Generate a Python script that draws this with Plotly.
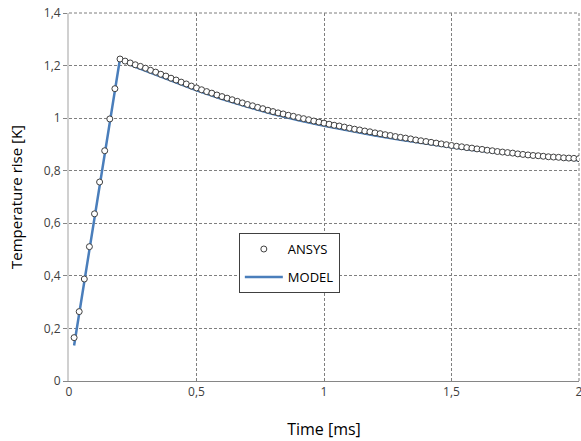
import plotly.graph_objects as go

# ANSYS data (time in ms, temperature rise in K)
ansys_t = [round(0.02 * i, 2) for i in range(1, 101)]
ansys_rise = [0.165, 0.264, 0.388, 0.511, 0.636, 0.757, 0.876, 0.997, 1.112, 1.225]
ansys_decay = [
    1.217, 1.210, 1.203, 1.197, 1.190, 1.182, 1.175, 1.167, 1.160, 1.152,
    1.145, 1.137, 1.130, 1.122, 1.115, 1.108, 1.101, 1.095, 1.088, 1.082,
    1.076, 1.070, 1.064, 1.058, 1.052, 1.047, 1.041, 1.036, 1.030, 1.025,
    1.020, 1.016, 1.011, 1.007, 1.002, 0.998, 0.994, 0.989, 0.985, 0.981,
    0.977, 0.973, 0.970, 0.966, 0.962, 0.958, 0.955, 0.951, 0.948, 0.944,
    0.941, 0.937, 0.934, 0.930, 0.927, 0.924, 0.921, 0.917, 0.914, 0.911,
    0.908, 0.905, 0.902, 0.899, 0.896, 0.893, 0.891, 0.888, 0.886, 0.883,
    0.881, 0.878, 0.876, 0.873, 0.871, 0.869, 0.867, 0.864, 0.862, 0.860,
    0.858, 0.857, 0.855, 0.853, 0.852, 0.851, 0.849, 0.848, 0.847, 0.846,
]
ansys_y = ansys_rise + ansys_decay

# MODEL data
model_t = [0.02, 0.2, 0.25, 0.3, 0.4, 0.5, 0.6, 0.7, 0.8, 0.9, 1.0,
           1.1, 1.2, 1.3, 1.4, 1.5, 1.6, 1.7, 1.8, 1.9, 2.0]
model_y = [0.135, 1.226, 1.199, 1.180, 1.143, 1.106, 1.073, 1.043, 1.016, 0.992, 0.971,
           0.952, 0.934, 0.918, 0.903, 0.889, 0.877, 0.866, 0.856, 0.848, 0.840]

x_ticks = [0, 0.5, 1, 1.5, 2]
y_ticks = [0, 0.2, 0.4, 0.6, 0.8, 1, 1.2, 1.4]

font_family = "Open Sans, Liberation Sans, sans-serif"
grid_color = "#7f7f7f"
grid_dash = "3px,2px"

fig = go.Figure()
fig.add_trace(go.Scatter(
    x=model_t, y=model_y, mode="lines", name="MODEL",
    line=dict(color="#4a7ebb", width=2.5),
    legendgroup="b", legendrank=2,
))
fig.add_trace(go.Scatter(
    x=ansys_t, y=ansys_y, mode="markers", name="ANSYS",
    marker=dict(symbol="circle", size=6, color="white",
                line=dict(color="#404040", width=1)),
    legendgroup="a", legendrank=1,
))

# gridlines on the top and right edges of the plot area
fig.add_shape(type="line", xref="x domain", yref="y domain", x0=0, x1=1, y0=1, y1=1,
              line=dict(color=grid_color, width=1, dash=grid_dash), layer="below")
fig.add_shape(type="line", xref="x domain", yref="y domain", x0=1, x1=1, y0=0, y1=1,
              line=dict(color=grid_color, width=1, dash=grid_dash), layer="below")

fig.update_layout(
    width=581, height=441,
    margin=dict(l=69, r=2, t=13, b=60),
    paper_bgcolor="white", plot_bgcolor="white",
    separators=", ",
    font=dict(family=font_family, size=12, color="#404040"),
    showlegend=True,
    legend=dict(
        x=0.333, y=0.402, xanchor="left", yanchor="top",
        bordercolor="#404040", borderwidth=1, bgcolor="white",
        font=dict(size=13, color="#000000"),
        traceorder="grouped", tracegroupgap=8, itemwidth=38,
    ),
    xaxis=dict(
        range=[0, 2], tickvals=x_ticks, automargin=False, ticklabeloverflow="allow",
        showgrid=True, gridcolor=grid_color, griddash=grid_dash, gridwidth=1,
        zeroline=False, showline=True, linecolor="#868686", linewidth=1,
        ticks="", ticklen=4,
        title=dict(text="Time [ms]", font=dict(size=16, color="#000000"), standoff=24),
    ),
    yaxis=dict(
        range=[0, 1.4], tickvals=y_ticks, automargin=False, ticklabeloverflow="allow",
        showgrid=True, gridcolor=grid_color, griddash=grid_dash, gridwidth=1,
        zeroline=False, showline=True, linecolor="#d0d0d0", linewidth=2,
        ticks="outside", ticklen=4, tickcolor="#868686",
        title=dict(text="Temperature rise [K]", font=dict(size=15, color="#000000"), standoff=18),
    ),
)

fig.write_html(
    "out.html",
    config={"displayModeBar": False},
    post_script="document.body.style.margin='0';",
)
